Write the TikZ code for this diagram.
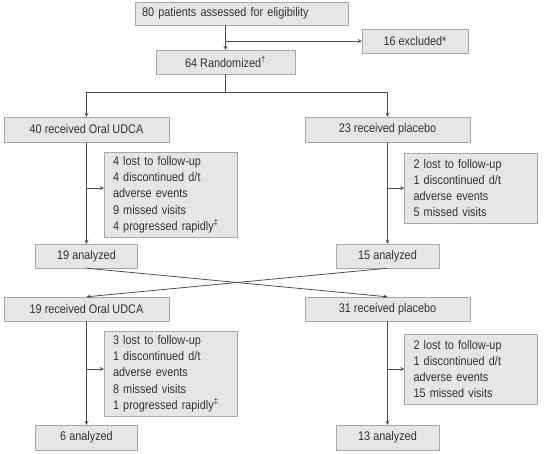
\documentclass[tikz,border=0pt]{standalone}
\usepackage{fontspec}
\setmainfont[FakeStretch=0.87]{Liberation Sans}
\usetikzlibrary{arrows, positioning}
\definecolor{boxfill}{HTML}{E6E6E6}
\definecolor{boxline}{HTML}{A8A8A8}
\definecolor{linegray}{HTML}{505050}
\definecolor{textgray}{HTML}{333333}
\tikzset{
  gb/.style={draw=boxline,fill=boxfill,text=textgray,inner sep=0pt,font=\fontsize{12.5}{14}\selectfont},
  sb/.style={gb,align=left,text width=115pt,inner xsep=9pt,font=\fontsize{12.5}{16.3}\selectfont},
  wh/.style 2 args={minimum width=#1,minimum height=#2},
  to/.style={->,>=stealth,draw=linegray,line width=0.8pt},
}
\begin{document}
\begin{tikzpicture}[x=1pt,y=-1pt]
  \useasboundingbox (0,0) rectangle (551,453);

  % enrolment
  \node [gb,minimum height=23pt,align=left,text width=199pt,inner xsep=7pt] (elig) at (241.5,13.5)
    {80 patients assessed for eligibility};
  \node [gb,wh={106pt}{24pt}] (excl) at (415,41) {16 excluded*};
  \node [gb,wh={139pt}{24pt}] (rand) at (225.5,62) {64 Randomized\textsuperscript{†}};

  % first period
  \node [gb,wh={165pt}{25pt}] (udcaA) at (86.5,129.5) {40 received Oral UDCA};
  \node [gb,wh={165pt}{25pt}] (placA) at (387.5,129.5) {23 received placebo};
  \node [sb,minimum height=85pt] (lossA) at (170.5,194.5)
    {4 lost to follow-up\\4 discontinued d/t\\adverse events\\9 missed visits\\4 progressed rapidly\textsuperscript{‡}};
  \node [sb,minimum height=70pt] (lossB) at (471,188)
    {2 lost to follow-up\\1 discontinued d/t\\adverse events\\5 missed visits};
  \node [gb,wh={102pt}{24pt}] (anA) at (86.5,256) {19 analyzed};
  \node [gb,wh={103pt}{24pt}] (anB) at (387.5,256) {15 analyzed};

  % second period
  \node [gb,wh={165pt}{24pt}] (udcaB) at (86.5,309) {19 received Oral UDCA};
  \node [gb,wh={165pt}{24pt}] (placB) at (387.5,309) {31 received placebo};
  \node [sb,minimum height=85pt] (lossC) at (170.5,373.5)
    {3 lost to follow-up\\1 discontinued d/t\\adverse events\\8 missed visits\\1 progressed rapidly\textsuperscript{‡}};
  \node [sb,minimum height=70pt] (lossD) at (471,369)
    {2 lost to follow-up\\1 discontinued d/t\\adverse events\\15 missed visits};
  \node [gb,wh={102pt}{25pt}] (anC) at (86.5,437.5) {6 analyzed};
  \node [gb,wh={103pt}{25pt}] (anD) at (387.5,437.5) {13 analyzed};

  \coordinate (split) at (225.5,92);

  \draw [to] (rand |- elig.south) -- (rand.north);
  \draw [to] (rand |- excl.west) -- (excl.west);
  \draw [to,-] (rand.south) -- (split);
  \draw [to] (split) -| (udcaA.north);
  \draw [to] (split) -| (placA.north);

  \draw [to] (udcaA.south) -- (anA.north);
  \draw [to] (placA.south) -- (anB.north);
  \draw [to] (udcaA.south |- 0,188) -- ([yshift=6.5pt]lossA.west);
  \draw [to] (placA.south |- lossB.west) -- (lossB.west);

  % crossover
  \draw [to] (anA.south) -- (placB.north);
  \draw [to] (anB.south) -- (udcaB.north);

  \draw [to] (udcaB.south) -- (anC.north);
  \draw [to] (placB.south) -- (anD.north);
  \draw [to] (udcaB.south |- 0,369) -- ([yshift=4.5pt]lossC.west);
  \draw [to] (placB.south |- lossD.west) -- (lossD.west);
\end{tikzpicture}
\end{document}
